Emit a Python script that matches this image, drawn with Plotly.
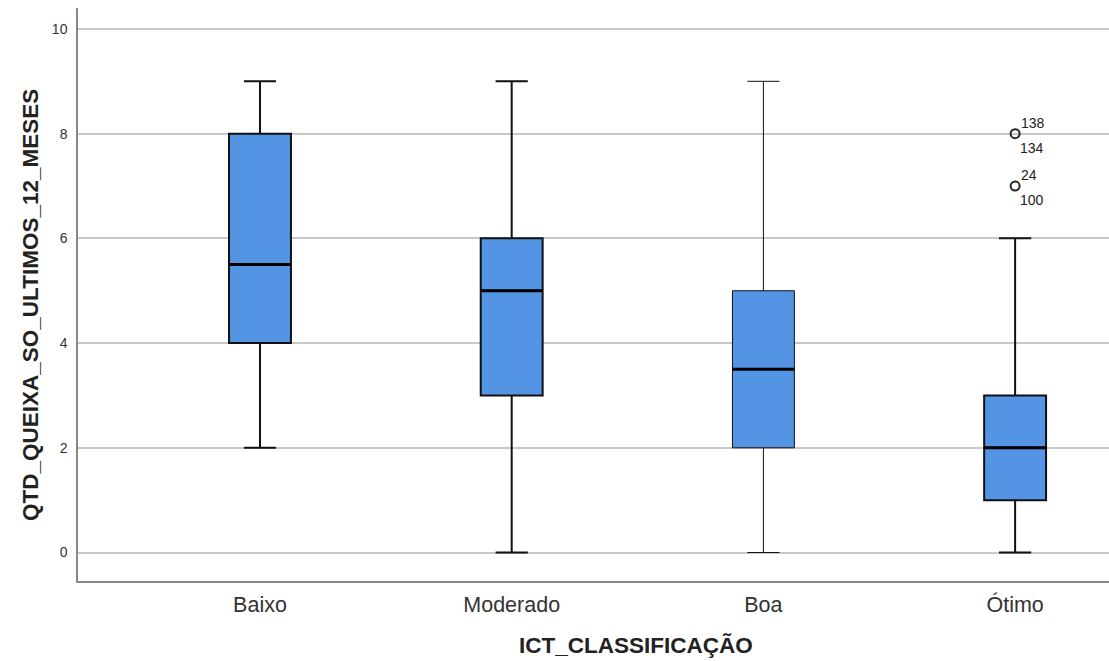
import plotly.graph_objects as go

categories = ["Baixo", "Moderado", "Boa", "Ótimo"]
q1 = [4, 3, 2, 1]
median = [5.5, 5, 3.5, 2]
q3 = [8, 6, 5, 3]
lower = [2, 0, 0, 0]
upper = [9, 9, 9, 6]
whisker_w = [2, 2, 1, 2]

outlier_cat = ["Ótimo", "Ótimo"]
outlier_val = [8, 7]
outlier_top = ["138", "24"]
outlier_bot = ["134", "100"]

y_ticks = [0, 2, 4, 6, 8, 10]

BOX_W = 0.246
fill = "#5494E4"
font = "Liberation Sans, Arial, sans-serif"

fig = go.Figure()
for i, c in enumerate(categories):
    fig.add_trace(go.Box(
        x=[c], q1=[q1[i]], median=[median[i]], q3=[q3[i]],
        lowerfence=[lower[i]], upperfence=[upper[i]],
        width=BOX_W, whiskerwidth=0.52, fillcolor=fill,
        line=dict(color="#111111", width=whisker_w[i]),
        boxpoints=False, showlegend=False, hoverinfo="skip",
    ))
    fig.add_shape(type="line", xref="x", yref="y",
                  x0=i - BOX_W / 2, x1=i + BOX_W / 2, y0=median[i], y1=median[i],
                  line=dict(color="black", width=3), layer="above")

fig.add_trace(go.Scatter(
    x=outlier_cat, y=outlier_val, mode="markers",
    marker=dict(symbol="circle-open", size=9, color="#222222", line=dict(width=2)),
    showlegend=False, hoverinfo="skip",
))
for c, v, t, b in zip(outlier_cat, outlier_val, outlier_top, outlier_bot):
    fig.add_annotation(x=c, y=v, text=t, showarrow=False, xanchor="left", yanchor="bottom",
                       xshift=4, yshift=1, font=dict(family=font, size=14, color="#222"))
    fig.add_annotation(x=c, y=v, text=b, showarrow=False, xanchor="left", yanchor="top",
                       xshift=3, yshift=-4, font=dict(family=font, size=14, color="#222"))

# axis titles as annotations (positioned like the reference)
fig.add_annotation(xref="paper", yref="paper", x=0.541, y=-0.1117, xanchor="center", yanchor="middle",
                   text="<b>ICT_CLASSIFICAÇÃO</b>", showarrow=False,
                   font=dict(family=font, size=22.5, color="#222"))
fig.add_annotation(xref="paper", yref="paper", x=-0.0456, y=0.4817, xanchor="center", yanchor="middle",
                   text="<b>QTD_QUEIXA_SO_ULTIMOS_12_MESES</b>", showarrow=False, textangle=-90,
                   font=dict(family=font, size=22.5, color="#222"))

fig.update_layout(
    width=1109, height=661,
    margin=dict(l=78, r=0, t=8, b=80),
    plot_bgcolor="white", paper_bgcolor="white",
    font=dict(family=font, color="#222"),
)
fig.update_xaxes(
    range=[-0.723, 3.373], showgrid=False, showline=True, linecolor="#888", linewidth=1.5,
    ticks="", tickfont=dict(size=21.5, color="#333"), ticklabelstandoff=3,
)
fig.update_yaxes(
    range=[-0.544, 10.40], tickvals=y_ticks, showgrid=True, gridcolor="#C8C8C8", gridwidth=1.5,
    showline=True, linecolor="#888", linewidth=1.5, zeroline=False, ticks="",
    tickfont=dict(size=14, color="#333"), ticklabelstandoff=6,
)

fig.write_html("out.html")
